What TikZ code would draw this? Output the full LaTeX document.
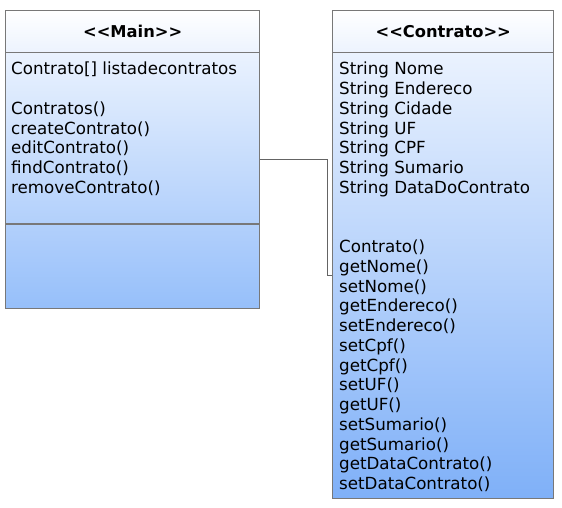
\documentclass[tikz,border=0pt]{standalone}
\usepackage{fontspec}
\setmainfont{DejaVu Sans}
\usepackage{tikz}
\usepackage{xcolor}

\definecolor{umlborder}{RGB}{120,120,120}
\definecolor{linkgray}{RGB}{100,100,100}
\definecolor{headblue}{RGB}{236,243,254}
\definecolor{bodytop}{RGB}{234,242,254}
\definecolor{mainbot}{RGB}{150,191,250}
\definecolor{contbot}{RGB}{127,176,248}

\tikzset{
  classhead/.style={draw=umlborder, line width=1.4pt, top color=white, bottom color=headblue,
    anchor=north west, inner sep=0pt, minimum height=42pt, font=\bfseries\fontsize{16.3}{19}\selectfont},
  classbody/.style={draw=umlborder, line width=1.4pt, top color=bodytop,
    anchor=north west, inner sep=0pt},
  members/.style={anchor=north west, inner sep=0pt, align=left,
    font=\fontsize{16.7}{19.75}\selectfont},
  link/.style={draw=linkgray, line width=1pt}
}

\begin{document}
\begin{tikzpicture}[x=1pt,y=1pt,yscale=-1,xscale=1]
                    \useasboundingbox (0,0) rectangle (562,507);

                    % Main class
                    \node [classbody, bottom color=mainbot, minimum width=254pt, minimum height=256pt] (mainbody) at (5,52) {};
                    \draw [umlborder, line width=1.4pt] (5,224) -- (259,224);
                    \node [classhead, minimum width=254pt] (mainhead) at (5,10) {{<}{<}Main{>}{>}};
                    % Text Node
                    \node [members] (mainattr) at (11,62) {Contrato[] listadecontratos\\[19.75pt]
                      Contratos()\\createContrato()\\editContrato()\\findContrato()\\removeContrato()};

                    % Contrato class
                    \node [classbody, bottom color=contbot, minimum width=221pt, minimum height=446pt] (contratobody) at (332,52) {};
                    \node [classhead, minimum width=221pt] (contratohead) at (332,10) {{<}{<}Contrato{>}{>}};
                    % Text Node
                    \node [members] (contratoattr) at (339,62) {String Nome\\String Endereco\\String Cidade\\String UF\\
                      String CPF\\String Sumario\\String DataDoContrato\\[39.5pt]
                      Contrato()\\getNome()\\setNome()\\getEndereco()\\setEndereco()\\setCpf()\\getCpf()\\
                      setUF()\\getUF()\\setSumario()\\getSumario()\\getDataContrato()\\setDataContrato()};

                    %Straight Lines
                    \draw [link] ([yshift=-21pt]mainbody.east) -- ++(67,0) |- (contratobody.west);
\end{tikzpicture}
\end{document}
